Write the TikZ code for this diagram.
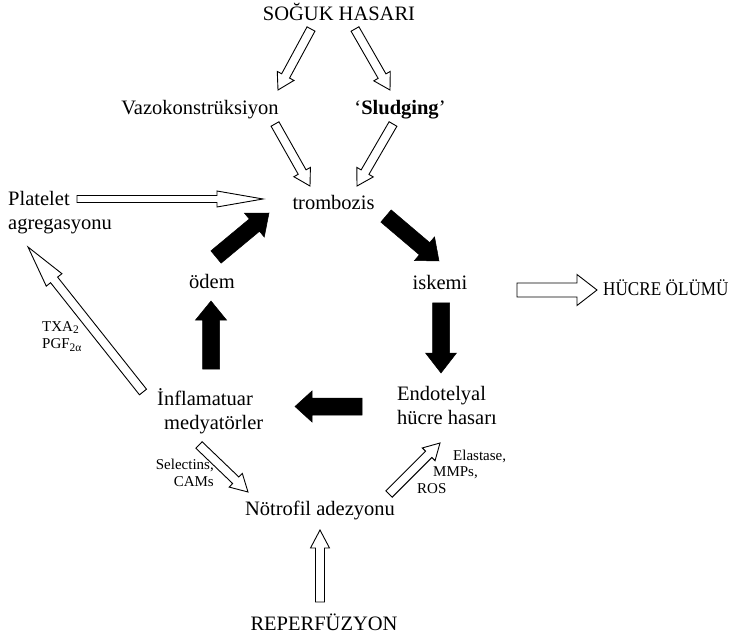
\documentclass[tikz,border=0pt]{standalone}
\usepackage{fontspec}
\setmainfont{Liberation Serif}
\usetikzlibrary{calc}

% Block arrow from #2 (tail centre) to #3 (tip):
% #4 half shaft width, #5 half head width, #6 head length.
\newcommand\flowarrow[6][]{%
  \coordinate (ahb) at ($(#3)!#6!(#2)$);
  \draw[#1] ($(#2)!#4!90:(#3)$) -- ($(ahb)!#4!90:(#3)$) -- ($(ahb)!#5!90:(#3)$)
    -- (#3) -- ($(ahb)!#5!-90:(#3)$) -- ($(ahb)!#4!-90:(#3)$)
    -- ($(#2)!#4!-90:(#3)$) -- cycle;
}

\begin{document}
\begin{tikzpicture}[x=1pt,y=-1pt,
  lbl/.style={font=\fontsize{20.5}{24}\selectfont, inner sep=0pt},
  note/.style={font=\fontsize{15}{16.5}\selectfont, inner sep=0pt},
  hollow/.style={draw=black, fill=white, line width=0.9pt, line join=miter},
  filled/.style={draw=black, fill=black, line width=0.5pt, line join=miter}]
\useasboundingbox[fill=white] (0,0) rectangle (734,639);

% ---------- labels (multi-line nodes sit on the baseline of their last line) ----------
\node[lbl, anchor=base] (soguk) at (339,21) {SOĞUK HASARI};
\node[lbl, anchor=base] (vazo) at (200,115) {Vazokonstrüksiyon};
\node[lbl, anchor=base] (sludge) at (400,115) {‘\textbf{Sludging}’};
\node[lbl, anchor=base] (tromb) at (333.5,210) {trombozis};
\node[lbl, anchor=base west, align=left] (platelet) at (8,230) {Platelet\\agregasyonu};
\node[lbl, anchor=base] (odem) at (212,288) {ödem};
\node[lbl, anchor=base] (iskemi) at (440,290) {iskemi};
\node[lbl, anchor=base west, font=\fontsize{19.5}{22}\selectfont] (olum) at (603,296)
  {\scalebox{0.88}[1]{HÜCRE ÖLÜMÜ}};
\node[lbl, anchor=base west, align=left] (inflam) at (157,429) {İnflamatuar\\\hspace*{7pt}medyatörler};
\node[lbl, anchor=base west, align=left] (endo) at (397,424) {Endotelyal\\hücre hasarı};
\node[lbl, anchor=base] (notrofil) at (320,515) {Nötrofil adezyonu};
\node[lbl, anchor=base] (reperf) at (324,630) {REPERFÜZYON};

\node[note, anchor=base west, align=left] (txa) at (42,348)
  {TXA\raisebox{-0.3ex}{\fontsize{11.5}{11.5}\selectfont 2}\\
   PGF\raisebox{-0.45ex}{\fontsize{11.5}{11.5}\selectfont 2α}};
\node[note, anchor=base east, align=right] (selectins) at (214,486) {Selectins,\\CAMs};
\node[note, anchor=base west, align=left] (elastase) at (417,493)
  {\hspace*{36pt}Elastase,\\\hspace*{16pt}MMPs,\\ROS};

% ---------- arrow end points ----------
\coordinate (sv1) at (311,29);  \coordinate (sv2) at (278,90);
\coordinate (ss1) at (355,29);  \coordinate (ss2) at (390,90);
\coordinate (vt1) at (275,124); \coordinate (vt2) at (310,186);
\coordinate (st1) at (393,124); \coordinate (st2) at (357,186);
\coordinate (pt1) at (77,199);  \coordinate (pt2) at (263,199);
\coordinate (ip1) at (143,392); \coordinate (ip2) at (28,247);
\coordinate (ih1) at (517,290); \coordinate (ih2) at (597,290);
\coordinate (in1) at (199,445); \coordinate (in2) at (248,492);
\coordinate (ne1) at (389,494); \coordinate (ne2) at (440,443);
\coordinate (rn1) at (320,602); \coordinate (rn2) at (320,530);
\coordinate (ot1) at (216,257); \coordinate (ot2) at (269,213);
\coordinate (ti1) at (386,216); \coordinate (ti2) at (439,261);
\coordinate (ie1) at (441,303); \coordinate (ie2) at (441,373);
\coordinate (ei1) at (362,406.5); \coordinate (ei2) at (295,406.5);
\coordinate (io1) at (211,369); \coordinate (io2) at (211,301);

% ---------- outlined arrows ----------
\flowarrow[hollow]{sv1}{sv2}{4.5pt}{9.5pt}{16pt}
\flowarrow[hollow]{ss1}{ss2}{4.5pt}{9.5pt}{16pt}
\flowarrow[hollow]{vt1}{vt2}{4.5pt}{9.5pt}{16pt}
\flowarrow[hollow]{st1}{st2}{4.5pt}{9.5pt}{16pt}
\flowarrow[hollow]{pt1}{pt2}{3.5pt}{8pt}{46pt}
\flowarrow[hollow]{ip1}{ip2}{4.5pt}{10pt}{42pt}
\flowarrow[hollow]{ih1}{ih2}{7pt}{15.5pt}{20pt}
\flowarrow[hollow]{in1}{in2}{4.5pt}{9.5pt}{17pt}
\flowarrow[hollow]{ne1}{ne2}{4.5pt}{9pt}{16pt}
\flowarrow[hollow]{rn1}{rn2}{4.5pt}{9.5pt}{18pt}

% ---------- solid arrows of the cycle ----------
\flowarrow[filled]{ot1}{ot2}{8pt}{15.5pt}{19pt}
\flowarrow[filled]{ti1}{ti2}{8pt}{15.5pt}{19pt}
\flowarrow[filled]{ie1}{ie2}{8.5pt}{15.5pt}{20pt}
\flowarrow[filled]{ei1}{ei2}{8.5pt}{15.5pt}{17pt}
\flowarrow[filled]{io1}{io2}{8.5pt}{15.5pt}{19pt}
\end{tikzpicture}
\end{document}
